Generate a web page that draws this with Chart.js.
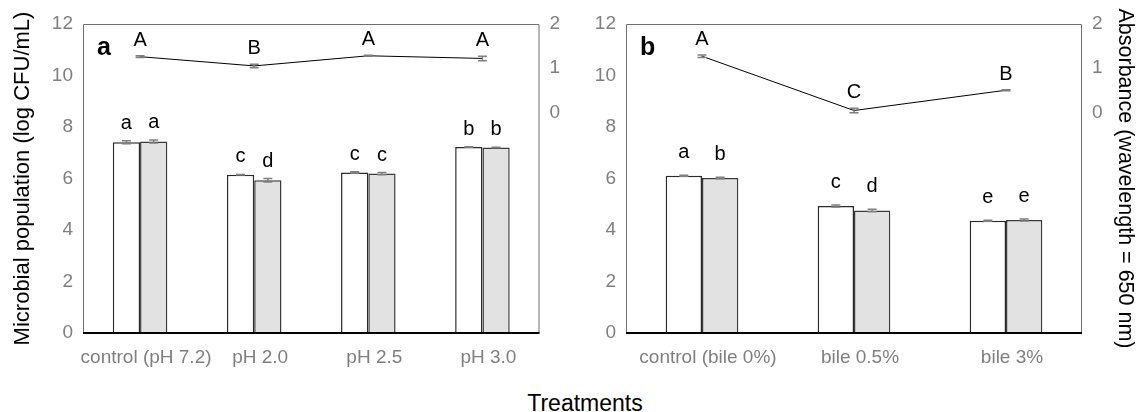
<!DOCTYPE html>
<html>
<head>
  <script src="https://cdn.jsdelivr.net/npm/chart.js"></script>
  <style>
    body { margin: 0; background: #fff; width: 1144px; height: 412px; position: relative; overflow: hidden; }
    canvas { position: absolute; top: 0; }
    #xTitle { position: absolute; left: 435px; width: 300px; top: 389px; text-align: center;
              font: 23px "Liberation Sans", Arial, sans-serif; line-height: 28px; color: #000; }
  </style>
</head>
<body>
  <canvas id="chartA" width="583" height="375" style="left:0"></canvas>
  <canvas id="chartB" width="561" height="375" style="left:583px"></canvas>
  <div id="xTitle">Treatments</div>

  <script>
    // panel a: acid tolerance
    const categoriesA = ['control (pH 7.2)', 'pH 2.0', 'pH 2.5', 'pH 3.0'];
    const whiteA = [7.41, 6.15, 6.23, 7.22];
    const whiteErrA = [0.06, 0.01, 0.03, 0.01];
    const whiteLettersA = ['a', 'c', 'c', 'b'];
    const grayA = [7.44, 5.93, 6.19, 7.20];
    const grayErrA = [0.06, 0.07, 0.04, 0.01];
    const grayLettersA = ['a', 'd', 'c', 'b'];
    const absA = [1.26, 1.05, 1.28, 1.22];
    const absErrA = [0.02, 0.04, 0.01, 0.05];
    const absLettersA = ['A', 'B', 'A', 'A'];

    // panel b: bile tolerance
    const categoriesB = ['control (bile 0%)', 'bile 0.5%', 'bile 3%'];
    const whiteB = [6.11, 4.93, 4.36];
    const whiteErrB = [0.02, 0.04, 0.02];
    const whiteLettersB = ['a', 'c', 'e'];
    const grayB = [6.02, 4.76, 4.39];
    const grayErrB = [0.03, 0.05, 0.04];
    const grayLettersB = ['b', 'd', 'e'];
    const absB = [1.27, 0.04, 0.50];
    const absErrB = [0.03, 0.05, 0.01];
    const absLettersB = ['A', 'C', 'B'];

    const leftTicks = [0, 2, 4, 6, 8, 10, 12];
    const rightTicks = [0, 1, 2];

    const FONT = '"Liberation Sans", Arial, sans-serif';
    const GREY = '#7f7f7f';

    // frame, error bars, significance letters and panel letter
    const annotate = {
      id: 'annotate',
      afterDatasetsDraw(chart, args, opts) {
        const ctx = chart.ctx;
        const area = chart.chartArea;
        ctx.save();
        ctx.strokeStyle = '#6f6f6f';
        ctx.lineWidth = 1;
        ctx.beginPath();
        ctx.moveTo(area.left + 0.5, area.bottom);
        ctx.lineTo(area.left + 0.5, area.top + 0.5);
        ctx.lineTo(area.right - 0.5, area.top + 0.5);
        ctx.lineTo(area.right - 0.5, area.bottom);
        ctx.stroke();
        ctx.strokeStyle = '#000';
        ctx.lineWidth = 2;
        ctx.beginPath();
        ctx.moveTo(area.left, area.bottom);
        ctx.lineTo(area.right, area.bottom);
        ctx.stroke();

        chart.data.datasets.forEach((ds, i) => {
          const meta = chart.getDatasetMeta(i);
          const scale = chart.scales[meta.yAxisID];
          meta.data.forEach((el, j) => {
            const v = ds.data[j], e = ds.errors[j];
            const yTop = scale.getPixelForValue(v + e);
            const yBot = scale.getPixelForValue(v - e);
            ctx.strokeStyle = GREY;
            ctx.lineWidth = 1.5;
            ctx.beginPath();
            ctx.moveTo(el.x, yTop); ctx.lineTo(el.x, yBot);
            ctx.moveTo(el.x - 4.5, yTop); ctx.lineTo(el.x + 4.5, yTop);
            ctx.moveTo(el.x - 4.5, yBot); ctx.lineTo(el.x + 4.5, yBot);
            ctx.stroke();
            ctx.fillStyle = '#000';
            ctx.font = '20px ' + FONT;
            ctx.textAlign = 'center';
            ctx.textBaseline = 'alphabetic';
            const gap = ds.type === 'line' ? 10 : opts.letterGap;
            ctx.fillText(ds.letters[j], el.x, yTop - gap);
          });
        });

        ctx.font = 'bold 25px ' + FONT;
        ctx.textAlign = 'left';
        ctx.fillText(opts.panel, area.left + 14, area.top + 31);
        ctx.restore();
      }
    };

    function makeChart(id, cats, white, whiteErr, whiteLet, gray, grayErr, grayLet,
                       abs, absErr, absLet, panel, leftW, rightW, showLeftTitle, showRightTitle, letterGap) {
      const ctx = document.getElementById(id).getContext('2d');
      return new Chart(ctx, {
        type: 'bar',
        data: {
          labels: cats,
          datasets: [
            {
              type: 'line', data: abs, errors: absErr, letters: absLet, yAxisID: 'y2',
              borderColor: '#000', borderWidth: 1, pointRadius: 0, fill: false, tension: 0
            },
            {
              data: white, errors: whiteErr, letters: whiteLet, yAxisID: 'y',
              backgroundColor: '#ffffff', borderColor: '#2b2b2b', borderWidth: 1.5,
              categoryPercentage: 0.478, barPercentage: 1
            },
            {
              data: gray, errors: grayErr, letters: grayLet, yAxisID: 'y',
              backgroundColor: '#e2e2e2', borderColor: '#3a3a3a', borderWidth: 1.5,
              categoryPercentage: 0.478, barPercentage: 1
            }
          ]
        },
        options: {
          responsive: false,
          animation: false,
          layout: { padding: { top: 24, left: 0, right: 0, bottom: 0 } },
          plugins: {
            legend: { display: false },
            tooltip: { enabled: false },
            annotate: { panel: panel, letterGap: letterGap }
          },
          scales: {
            x: {
              grid: { display: false, drawTicks: false },
              border: { display: false },
              ticks: { color: GREY, font: { family: FONT, size: 19 }, padding: 13, labelOffset: 6, maxRotation: 0, autoSkip: false },
              afterFit(s) { s.height = 42; }
            },
            y: {
              position: 'left', min: 0, max: 12,
              afterBuildTicks(s) { s.ticks = leftTicks.map(v => ({ value: v })); },
              grid: { display: false, drawTicks: false },
              border: { display: false },
              ticks: { color: GREY, font: { family: FONT, size: 19 }, padding: 10 },
              title: {
                display: showLeftTitle, text: 'Microbial population (log CFU/mL)',
                color: '#000', font: { family: FONT, size: 22 }, padding: { top: 10, bottom: 0 }
              },
              afterFit(s) { s.width = leftW; }
            },
            y2: {
              position: 'right', min: -5, max: 2,
              afterBuildTicks(s) { s.ticks = rightTicks.map(v => ({ value: v })); },
              grid: { display: false, drawTicks: false },
              border: { display: false },
              ticks: { color: GREY, font: { family: FONT, size: 19 }, padding: 10 },
              title: {
                display: showRightTitle, text: 'Absorbance (wavelength = 650 nm)',
                color: '#000', font: { family: FONT, size: 21.5 }, padding: { top: 6, bottom: 0 }
              },
              afterFit(s) { s.width = rightW; }
            }
          }
        },
        plugins: [annotate]
      });
    }

    makeChart('chartA', categoriesA, whiteA, whiteErrA, whiteLettersA, grayA, grayErrA, grayLettersA,
              absA, absErrA, absLettersA, 'a', 83, 43.5, true, false, 12);
    makeChart('chartB', categoriesB, whiteB, whiteErrB, whiteLettersB, grayB, grayErrB, grayLettersB,
              absB, absErrB, absLettersB, 'b', 43, 62, false, true, 17);
  </script>
</body>
</html>
